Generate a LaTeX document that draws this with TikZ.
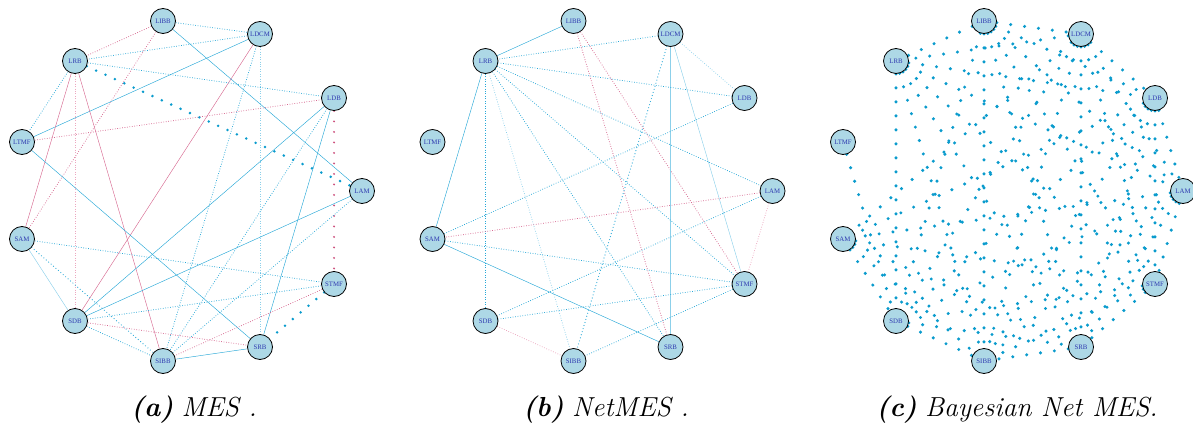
\documentclass[tikz,border=0pt]{standalone}
\usepackage{fontspec}
\newfontfamily\labelfont{Liberation Serif}
\usetikzlibrary{backgrounds}

\definecolor{nodefill}{RGB}{173,216,230}
\definecolor{labelblue}{RGB}{45,55,175}
\definecolor{eblue}{RGB}{40,168,215}
\definecolor{eblueL}{RGB}{140,208,234}
\definecolor{epink}{RGB}{215,105,145}
\definecolor{epinkL}{RGB}{236,168,192}
\definecolor{dotblue}{RGB}{10,155,205}
\definecolor{dotpink}{RGB}{205,80,125}

\tikzset{
  x=1pt, y=-1pt,
  vtx/.style={circle, draw=black, line width=0.8pt, fill=nodefill,
    minimum size=25pt, inner sep=0pt,
    font=\labelfont\fontsize{6.8}{7}\selectfont, text=labelblue},
  sol/.style={line width=0.45pt},
  dts/.style={line width=0.75pt, dash pattern=on 0.75pt off 1.7pt},
  dtsh/.style={line width=1.2pt, line cap=round, dash pattern=on 0pt off 3.2pt},
  bigdots/.style={line width=2.8pt, line cap=round, dash pattern=on 0pt off 10.3pt},
  cdots/.style={line width=3.4pt, line cap=round, dash pattern=on 0pt off 14pt, dotblue},
  capt/.style={anchor=base, font=\fontsize{27.5}{32}\selectfont},
}

% eleven vertices on a circle, shifted horizontally by #2
\newcommand\placevertices[2]{%
  \foreach \n/\px/\py in {LIBB/163/21, LDCM/260/34, LRB/75/61, LDB/334/98,
      LTMF/22/142, LAM/362/191, SAM/22/239, STMF/334/284, SDB/75/321,
      SRB/260/347, SIBB/163/361}
    \node[vtx] (#1\n) at (\px+#2,\py) {\n};%
}

\begin{document}
\begin{tikzpicture}
\useasboundingbox (0,0) rectangle (1193,425);

\placevertices{a}{0}
\placevertices{b}{410.5}
\placevertices{c}{821}

\begin{pgfonlayer}{background}
% ---- (a) MES
\draw[eblue,dts]   (aLIBB) -- (aLDCM);
\draw[epink,dts]   (aLIBB) -- (aLRB);
\draw[epink,dts]   (aLIBB) -- (aSAM);
\draw[eblue,sol]   (aLIBB) -- (aLAM);
\draw[eblue,dts]   (aLDCM) -- (aLRB);
\draw[eblue,sol]   (aLDCM) -- (aLTMF);
\draw[epink,sol]   (aLDCM) -- (aSDB);
\draw[eblue,dts]   (aLDCM) -- (aSIBB);
\draw[eblueL,dts]  (aLDCM) -- (aSRB);
\draw[eblue,dts]   (aLRB) -- (aLDB);
\draw[dotblue,bigdots] (aLRB) -- (aLAM);
\draw[eblue,dts]   (aLRB) -- (aLTMF);
\draw[epink,sol]   (aLRB) -- (aSAM);
\draw[epinkL,dts]  (aLRB) -- (aSDB);
\draw[epink,sol]   (aLRB) -- (aSIBB);
\draw[epink,dts]   (aLTMF) -- (aLDB);
\draw[eblue,sol]   (aLTMF) -- (aSRB);
\draw[eblue,sol]   (aLDB) -- (aSDB);
\draw[eblue,dts]   (aLDB) -- (aSIBB);
\draw[eblue,sol]   (aLDB) -- (aSRB);
\draw[dotpink,line width=2.2pt,line cap=round,dash pattern=on 0pt off 10.5pt] (aLDB) -- (aSTMF);
\draw[eblue,sol]   (aLAM) -- (aSDB);
\draw[eblue,dts]   (aLAM) -- (aSIBB);
\draw[eblue,dts]   (aSAM) -- (aSTMF);
\draw[eblueL,sol]  (aSAM) -- (aSDB);
\draw[eblue,dtsh]  (aSAM) -- (aSIBB);
\draw[eblue,dts]   (aSTMF) -- (aSDB);
\draw[epink,dts]   (aSTMF) -- (aSIBB);
\draw[dotblue,bigdots] (aSTMF) -- (aSRB);
\draw[epink,dts]   (aSDB) -- (aSRB);
\draw[eblue,dts]   (aSDB) -- (aSIBB);
\draw[eblue,sol]   (aSIBB) -- (aSRB);

% ---- (b) NetMES
\draw[eblue,sol]   (bLIBB) -- (bLRB);
\draw[epink,dts]   (bLIBB) -- (bSRB);
\draw[epink,dts]   (bLIBB) -- (bSTMF);
\draw[eblue,dts]   (bLDCM) -- (bLRB);
\draw[eblueL,dts]  (bLDCM) -- (bLDB);
\draw[eblueL,line width=0.5pt] (bLDCM) -- (bSRB);
\draw[eblueL,sol]  (bLDCM) -- (bSTMF);
\draw[eblue,dtsh]  (bLDCM) -- (bSIBB);
\draw[eblue,dts]   (bLRB) -- (bLDB);
\draw[eblue,dts]   (bLRB) -- (bLAM);
\draw[eblue,dts]   (bLRB) -- (bSTMF);
\draw[eblue,dts]   (bLRB) -- (bSRB);
\draw[eblueL,dts]  (bLRB) -- (bSIBB);
\draw[eblue,dts]   (bLRB) -- (bSDB);
\draw[eblue,sol]   (bLRB) -- (bSAM);
\draw[eblue,dts]   (bLDB) -- (bSAM);
\draw[epink,dts]   (bLAM) -- (bSAM);
\draw[eblue,dts]   (bLAM) -- (bSDB);
\draw[epinkL,dts]  (bLAM) -- (bSTMF);
\draw[eblue,dts]   (bSAM) -- (bSTMF);
\draw[eblue,sol]   (bSAM) -- (bSRB);
\draw[eblue,dts]   (bSTMF) -- (bSDB);
\draw[eblue,dts]   (bSTMF) -- (bSIBB);
\draw[epinkL,dts]  (bSDB) -- (bSIBB);

% ---- (c) Bayesian Net MES
\foreach \u/\v in {LIBB/LDCM, LIBB/LRB, LIBB/LDB, LIBB/LAM, LIBB/STMF, LIBB/SDB,
    LIBB/SRB, LIBB/SIBB,
    LDCM/LRB, LDCM/LDB, LDCM/LAM, LDCM/SAM, LDCM/STMF, LDCM/SDB, LDCM/SRB, LDCM/SIBB,
    LRB/LDB, LRB/LAM, LRB/STMF, LRB/SDB, LRB/SRB, LRB/SIBB,
    LDB/LAM, LDB/SAM, LDB/STMF, LDB/SDB, LDB/SRB, LDB/SIBB,
    LAM/SAM, LAM/STMF, LAM/SDB, LAM/SRB, LAM/SIBB,
    SAM/STMF, SAM/SDB, SAM/SRB, SAM/SIBB,
    STMF/SDB, STMF/SRB, STMF/SIBB,
    SDB/SRB, SDB/SIBB, SRB/SIBB, LTMF/SDB}
  \draw[cdots] (c\u) -- (c\v);
\end{pgfonlayer}

% captions
\node[capt] (capA) at (194,416) {\textbf{\textit{(a)}} \textit{MES .}};
\node[capt] (capB) at (606,416) {\textbf{\textit{(b)}} \textit{NetMES .}};
\node[capt] (capC) at (1017,416) {\textbf{\textit{(c)}} \textit{Bayesian Net MES.}};
\end{tikzpicture}
\end{document}
